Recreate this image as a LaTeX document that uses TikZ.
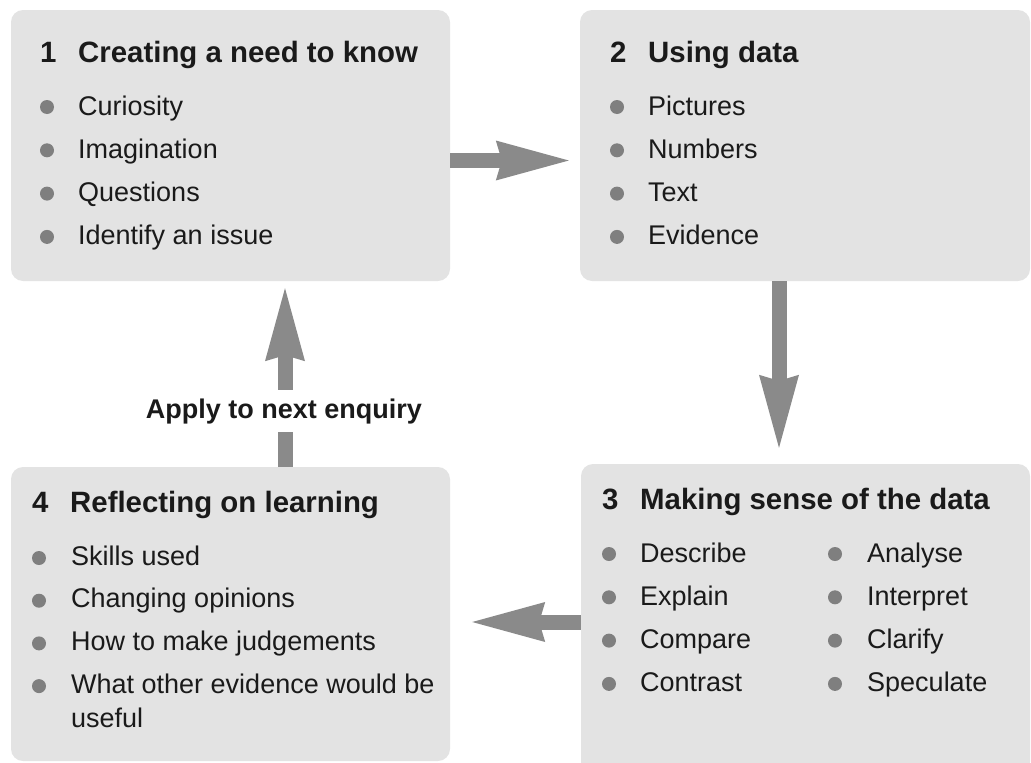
\documentclass[tikz,border=0pt]{standalone}
\usepackage{fontspec}
\setmainfont{Liberation Sans}
\usetikzlibrary{arrows.meta}

\definecolor{boxgray}{HTML}{E3E3E3}
\definecolor{arrowgray}{HTML}{8A8A8A}
\definecolor{dotgray}{HTML}{7F7F7F}
\definecolor{textblack}{HTML}{1A1A1A}

\tikzset{
  box/.style={rectangle, rounded corners=12pt, fill=boxgray, inner sep=0pt},
  flow/.style={draw=arrowgray, line width=15pt,
    -{Stealth[length=73pt, width=40pt, inset=6pt, line width=0pt]}},
  heading/.style={anchor=base west, inner sep=0pt, text=textblack,
    font=\fontsize{29.4}{34}\selectfont\bfseries},
  entry/.style={anchor=base west, inner sep=0pt, text=textblack,
    font=\fontsize{27}{32}\selectfont},
  bulletdot/.style={circle, fill=dotgray, minimum size=14pt, inner sep=0pt},
}

\begin{document}
\begin{tikzpicture}[x=1pt, y=-1pt]
    \useasboundingbox (0, 0) rectangle (1031, 763);
    \clip (0, 0) rectangle (1031, 763);

    % the four stages
    \node [box, minimum width=439pt, minimum height=271pt] (box1) at (230.5, 145.5) {};
    \node [box, minimum width=450pt, minimum height=271pt] (box2) at (805, 145.5) {};
    \node [box, minimum width=449pt, minimum height=310pt] (box3) at (805.5, 619) {};
    \node [box, minimum width=439pt, minimum height=294pt] (box4) at (230.5, 614) {};

    \node [heading] (h1) at (40, 62) {\makebox[38pt][l]{1}Creating a need to know};
    \node [heading] (h2) at (610, 62) {\makebox[38pt][l]{2}Using data};
    \node [heading] (h3) at (602, 509) {\makebox[38pt][l]{3}Making sense of the data};
    \node [heading] (h4) at (32, 512) {\makebox[38pt][l]{4}Reflecting on learning};

    \foreach \txt [count=\i] in {Curiosity, Imagination, Questions, Identify an issue} {
      \node [bulletdot] (d1-\i) at (47, {107+43.3*(\i-1)}) {};
      \node [entry] (e1-\i) at (78, {115+43.3*(\i-1)}) {\txt};
    }
    \foreach \txt [count=\i] in {Pictures, Numbers, Text, Evidence} {
      \node [bulletdot] (d2-\i) at (617, {107+43.3*(\i-1)}) {};
      \node [entry] (e2-\i) at (648, {115+43.3*(\i-1)}) {\txt};
    }
    \foreach \txt [count=\i] in {Describe, Explain, Compare, Contrast} {
      \node [bulletdot] (d3-\i) at (609, {554+43.3*(\i-1)}) {};
      \node [entry] (e3-\i) at (640, {562+43.3*(\i-1)}) {\txt};
    }
    \foreach \txt [count=\i] in {Analyse, Interpret, Clarify, Speculate} {
      \node [bulletdot] (f3-\i) at (835, {554+43.3*(\i-1)}) {};
      \node [entry] (g3-\i) at (867, {562+43.3*(\i-1)}) {\txt};
    }
    \foreach \txt [count=\i] in {Skills used, Changing opinions, How to make judgements, What other evidence would be} {
      \node [bulletdot] (d4-\i) at (39, {558+42.7*(\i-1)}) {};
      \node [entry] (e4-\i) at (71, {565+42.7*(\i-1)}) {\txt};
    }
    \node [entry] (e4-5) at (71, 727) {useful};

    % the cycle
    \draw [flow, shorten >=11pt] ([yshift=-15pt]box1.east) -- ([yshift=-15pt]box2.west);
    \draw [flow, shorten >=16pt] ([xshift=-26pt]box2.south) -- ([xshift=-26pt]box2.south |- box3.north);
    \draw [flow, shorten >=22pt] ([yshift=-3pt]box3.west) -- ([yshift=-3pt]box4.east |- box3.west);
    \draw [flow, shorten >=7pt] ([xshift=54.5pt]box4.north) -- ([xshift=54.5pt]box1.south);

    \node [fill=white, inner xsep=10pt, inner ysep=8pt, anchor=base, text=textblack,
      font=\fontsize{27}{32}\selectfont\bfseries] (apply) at (284, 418) {Apply to next enquiry};
\end{tikzpicture}
\end{document}
